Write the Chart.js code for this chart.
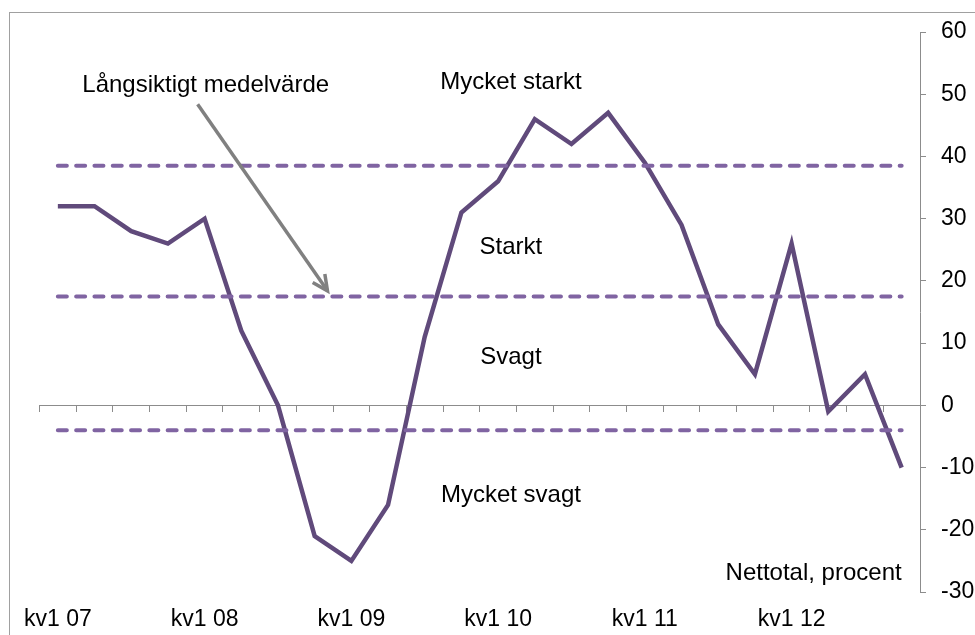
<!DOCTYPE html>
<html>
<head>
<meta charset="utf-8">
<script src="https://cdn.jsdelivr.net/npm/chart.js@4/dist/chart.umd.min.js"></script>
<style>
  html, body { margin: 0; padding: 0; background: #fff; }
  #wrap { width: 975px; height: 635px; position: relative; }
</style>
</head>
<body>
<div id="wrap"><canvas id="chart" width="975" height="635"></canvas></div>
<script>
// quarters kv1 07 .. kv4 12
const quarters = [
  'kv1 07', 'kv2 07', 'kv3 07', 'kv4 07',
  'kv1 08', 'kv2 08', 'kv3 08', 'kv4 08',
  'kv1 09', 'kv2 09', 'kv3 09', 'kv4 09',
  'kv1 10', 'kv2 10', 'kv3 10', 'kv4 10',
  'kv1 11', 'kv2 11', 'kv3 11', 'kv4 11',
  'kv1 12', 'kv2 12', 'kv3 12', 'kv4 12'
];

// nettotal, procent
const values = [32, 32, 28, 26, 30, 12, 0, -21, -25, -16, 11, 31,
                36, 46, 42, 47, 39, 29, 13, 5, 26, -1, 5, -10];

// dashed limits between Mycket svagt / Svagt / Starkt / Mycket starkt
const levels = [38.5, 17.5, -4];

const yTicks = { min: -30, max: 60, step: 10 };

const zoneLabels = ['Mycket starkt', 'Starkt', 'Svagt', 'Mycket svagt'];
const unitLabel = 'Nettotal, procent';
const avgLabel = 'Långsiktigt medelvärde';

const FONT = "'Liberation Sans', Arial, sans-serif";
const lineColor = '#604a7b';
const dashColor = '#8064a2';
const axisColor = '#8c8c8c';

// text notes, placed in data units (category index, value)
const notes = [
  { text: zoneLabels[0], i: 12.35, v: 50.9, align: 'center' },
  { text: zoneLabels[1], i: 12.35, v: 24.4, align: 'center' },
  { text: zoneLabels[2], i: 12.35, v: 6.7, align: 'center' },
  { text: zoneLabels[3], i: 12.35, v: -15.5, align: 'center' },
  { text: unitLabel, i: 23, v: -28.1, align: 'right' },
  { text: avgLabel, i: 4.03, v: 50.4, align: 'center' }
];
const arrow = { from: [3.81, 48.4], to: [7.35, 18.4] };

const first = quarters[0];
const last = quarters[quarters.length - 1];

const levelSets = levels.map(l => ({
  data: [{ x: first, y: l }, { x: last, y: l }],
  borderColor: dashColor,
  borderWidth: 4,
  borderDash: [9, 9.3],
  borderCapStyle: 'round',
  pointRadius: 0,
  fill: false,
  order: 1
}));

const decor = {
  id: 'decor',
  beforeDraw(chart) {
    const ctx = chart.ctx;
    ctx.save();
    ctx.strokeStyle = '#a0a0a0';
    ctx.lineWidth = 1;
    ctx.strokeRect(9.5, 12.5, 2000, 2000);
    ctx.restore();
  },
  afterDatasetsDraw(chart) {
    const ctx = chart.ctx;
    const xs = chart.scales.x, ys = chart.scales.y;
    ctx.save();
    ctx.fillStyle = '#000';
    ctx.font = '24px ' + FONT;
    ctx.textBaseline = 'alphabetic';
    notes.forEach(n => {
      ctx.textAlign = n.align;
      ctx.fillText(n.text, xs.getPixelForValue(n.i), ys.getPixelForValue(n.v));
    });

    // arrow to the average line
    const x1 = xs.getPixelForValue(arrow.from[0]), y1 = ys.getPixelForValue(arrow.from[1]);
    const x2 = xs.getPixelForValue(arrow.to[0]), y2 = ys.getPixelForValue(arrow.to[1]);
    const ang = Math.atan2(y2 - y1, x2 - x1);
    ctx.strokeStyle = '#808080';
    ctx.lineWidth = 3.5;
    ctx.lineCap = 'butt';
    ctx.beginPath();
    ctx.moveTo(x1, y1);
    ctx.lineTo(x2, y2);
    ctx.stroke();
    ctx.lineJoin = 'miter';
    ctx.beginPath();
    const h = 17, spread = 0.45;
    ctx.moveTo(x2 - h * Math.cos(ang - spread), y2 - h * Math.sin(ang - spread));
    ctx.lineTo(x2, y2);
    ctx.lineTo(x2 - h * Math.cos(ang + spread), y2 - h * Math.sin(ang + spread));
    ctx.stroke();
    ctx.restore();
  }
};

new Chart(document.getElementById('chart'), {
  type: 'line',
  data: {
    labels: quarters,
    datasets: [
      {
        data: values,
        borderColor: lineColor,
        borderWidth: 4.5,
        pointRadius: 0,
        tension: 0,
        fill: false,
        order: 2
      },
      ...levelSets
    ]
  },
  options: {
    responsive: false,
    animation: false,
    events: [],
    layout: { padding: { top: 32, left: 39.5, right: 0, bottom: 0 } },
    plugins: { legend: { display: false }, tooltip: { enabled: false } },
    scales: {
      x: {
        type: 'category',
        position: 'bottom',
        offset: true,
        grid: { display: false, drawTicks: false },
        border: { display: false },
        ticks: {
          autoSkip: false,
          maxRotation: 0,
          padding: 14,
          color: '#000',
          font: { family: FONT, size: 23 },
          callback: function (val) {
            const lab = this.getLabelForValue(val);
            return lab.startsWith('kv1') ? lab : '';
          }
        },
        afterFit(scale) { scale.height = 43; }
      },
      xZero: {
        type: 'category',
        axis: 'x',
        position: { y: 0 },
        offset: true,
        grid: { offset: true, drawOnChartArea: false, drawTicks: true, tickLength: 6, color: axisColor },
        border: { display: true, color: axisColor, width: 1 },
        ticks: { display: false, autoSkip: false }
      },
      y: {
        position: 'right',
        min: yTicks.min,
        max: yTicks.max,
        grid: { drawOnChartArea: false, tickLength: 6, color: axisColor },
        border: { color: axisColor, width: 1 },
        ticks: {
          stepSize: yTicks.step,
          padding: 15,
          color: '#000',
          font: { family: FONT, size: 23 }
        },
        afterFit(scale) { scale.width = 55; }
      }
    }
  },
  plugins: [decor]
});
</script>
</body>
</html>
